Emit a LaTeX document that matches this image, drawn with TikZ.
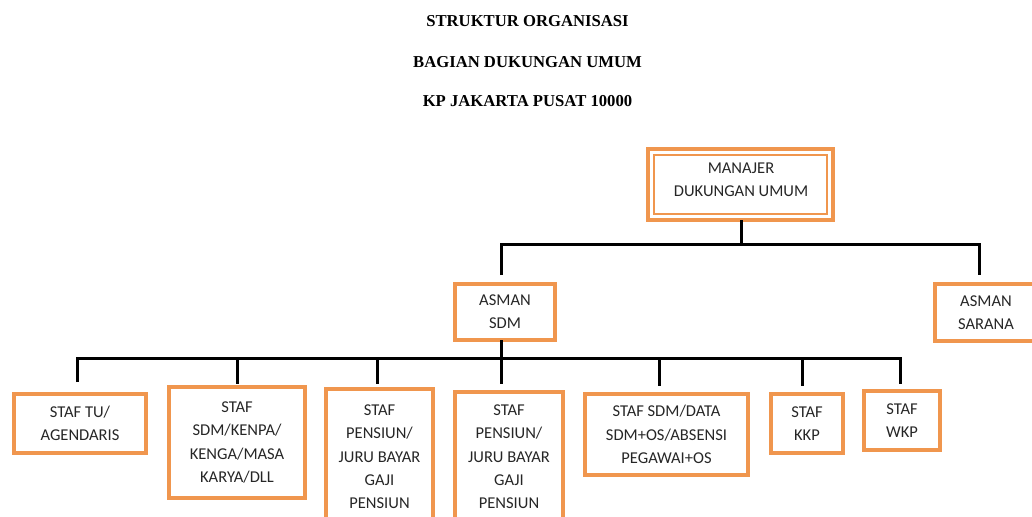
\documentclass[tikz,border=0pt]{standalone}
\usepackage{fontspec}
\setmainfont{Carlito}
\newfontfamily\titlefont{Liberation Serif}
\usetikzlibrary{calc}
\definecolor{boxorange}{HTML}{F0964E}
\tikzset{
  orgbox/.style={draw=boxorange, line width=3.4pt, rectangle, outer sep=0pt, inner sep=0pt,
    align=center, font=\fontsize{12.4pt}{17.5pt}\selectfont, text=black!85},
  conn/.style={draw=black, line width=2.25pt},
  titletext/.style={font=\titlefont\bfseries\fontsize{12.5pt}{15pt}\selectfont, inner sep=0pt}
}
\begin{document}
\begin{tikzpicture}[x=0.75pt,y=-0.75pt]
\useasboundingbox (0,0) rectangle (1032,517);
\clip (0,0) rectangle (1032,517);
% titles
\node[titletext] (t1) at (527.5,21) {STRUKTUR ORGANISASI};
\node[titletext] (t2) at (527.5,62.5) {BAGIAN DUKUNGAN UMUM};
\node[titletext] (t3) at (527.5,101.5) {KP JAKARTA PUSAT 10000};
% manager
\node[orgbox, minimum width=138.75pt, minimum height=53.25pt] (mgr) at (740.5,184.5) {};
\draw[boxorange, line width=1.2pt] ([shift={(4.6pt,-4.6pt)}]mgr.north west) rectangle ([shift={(-4.6pt,4.6pt)}]mgr.south east);
\node[align=center, inner sep=0pt, font=\fontsize{12.4pt}{17.5pt}\selectfont, text=black!85] (mgrtext) at (741,179.5) {MANAJER\\DUKUNGAN UMUM};
% asman
\node[orgbox, minimum width=75pt, minimum height=42pt] (asdm) at (505,312) {ASMAN\\SDM};
\node[orgbox, minimum width=76.5pt, minimum height=42.75pt] (asar) at (986,312.5) {ASMAN\\SARANA};
% staff
\node[orgbox, minimum width=99pt, minimum height=44.25pt] (tu) at (80,423.5) {STAF TU/\\AGENDARIS};
\node[orgbox, minimum width=102pt, minimum height=83.25pt] (kenpa) at (237,442.5) {STAF\\SDM/KENPA/\\KENGA/MASA\\KARYA/DLL};
\node[orgbox, minimum width=80.25pt, minimum height=102pt] (pen1) at (379.5,457) {STAF\\PENSIUN/\\JURU BAYAR\\GAJI\\PENSIUN};
\node[orgbox, minimum width=81pt, minimum height=97.5pt] (pen2) at (509,457) {STAF\\PENSIUN/\\JURU BAYAR\\GAJI\\PENSIUN};
\node[orgbox, minimum width=122.25pt, minimum height=60.75pt] (data) at (666.5,434.5) {STAF SDM/DATA\\SDM+OS/ABSENSI\\PEGAWAI+OS};
\node[orgbox, minimum width=54pt, minimum height=44.25pt] (kkp) at (807,423.5) {STAF\\KKP};
\node[orgbox, minimum width=57pt, minimum height=44.25pt] (wkp) at (902,420.5) {STAF\\WKP};
% coordinates
\coordinate (ubL) at (501,244);
\coordinate (ubR) at (979,244);
\coordinate (b1) at (77,358);
\coordinate (b2) at (237,358);
\coordinate (b3) at (377,358);
\coordinate (b4) at (501,358);
\coordinate (b5) at (659,358);
\coordinate (b6) at (802,358);
\coordinate (b7) at (900,358);
% upper connectors
\draw[conn] ([xshift=1pt]mgr.south) -- ([xshift=1pt]mgr.south |- ubL);
\draw[conn, shorten <=6.75pt, shorten >=6.75pt] (ubL |- asdm.north) -- (ubL) -- (ubR) -- (ubR |- asar.north);
% lower connectors
\draw[conn] (b4 |- asdm.south) -- (b4);
\draw[conn, shorten <=9pt, shorten >=5pt] (b1 |- tu.north) -- (b1) -- (b7) -- (b7 |- wkp.north);
\draw[conn, shorten >=2.5pt] (b2) -- (b2 |- kenpa.north);
\draw[conn, shorten >=4pt] (b3) -- (b3 |- pen1.north);
\draw[conn, shorten >=6pt] (b4) -- (b4 |- pen2.north);
\draw[conn, shorten >=6pt] (b5) -- (b5 |- data.north);
\draw[conn, shorten >=6pt] (b6) -- (b6 |- kkp.north);
\end{tikzpicture}
\end{document}
